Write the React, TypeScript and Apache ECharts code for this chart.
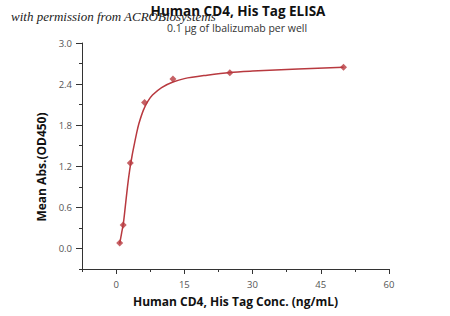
import React, { useEffect, useRef } from "react";
import * as echarts from "echarts";

const pointsX = [0.78125, 1.5625, 3.125, 6.25, 12.5, 25, 50];
const pointsY = [0.078, 0.341, 1.249, 2.133, 2.474, 2.567, 2.646];

const curveX = [0.78, 1.2, 1.6, 2.0, 2.5, 3.0, 3.5, 4.0, 4.5, 5.0, 6.0, 7.0, 8.0, 10, 12.5, 15, 20, 25, 30, 40, 50];
const curveY = [0.07, 0.22, 0.37, 0.6, 0.9, 1.15, 1.35, 1.52, 1.68, 1.82, 2.02, 2.15, 2.24, 2.35, 2.43, 2.48, 2.53, 2.57, 2.59, 2.62, 2.645];

const xMajorTicks = [0, 15, 30, 45, 60];
const yMajorTicks = [0, 0.6, 1.2, 1.8, 2.4, 3.0];

const title = "Human CD4, His Tag ELISA";
const subtitle = "0.1 μg of Ibalizumab per well";
const watermark = "with permission from ACROBiosystems";
const xName = "Human CD4, His Tag Conc. (ng/mL)";
const yName = "Mean Abs.(OD450)";

const RED = "#b8393f";
const AXIS = "#333";
const FONT = "'Open Sans', 'Noto Sans', sans-serif";

const X_MIN = -7.5;
const X_MAX = 60;
const X_MINOR = 7.5;
const Y_MIN = -0.3;
const Y_MAX = 3.0;
const Y_MINOR = 0.3;

const GRID = { left: 82, right: 61, top: 43, bottom: 47 };
const GRID_W = 450 - GRID.left - GRID.right;
const GRID_H = 316 - GRID.top - GRID.bottom;

export default function App() {
  const ref = useRef<HTMLDivElement>(null);
  useEffect(() => {
    if (!ref.current) return;
    const chart = echarts.init(ref.current, undefined, { renderer: "svg" });
    chart.setOption({
      animation: false,
      backgroundColor: "#fff",
      grid: GRID,
      xAxis: [
        {
          type: "value",
          min: X_MIN,
          max: X_MAX,
          interval: X_MINOR,
          position: "bottom",
          name: xName,
          nameLocation: "middle",
          nameGap: 26,
          nameTextStyle: { fontFamily: FONT, fontWeight: "bold", fontSize: 12, color: "#111" },
          axisLine: { show: true, onZero: false, lineStyle: { color: AXIS, width: 1 } },
          axisTick: { show: true, length: 3, lineStyle: { color: AXIS, width: 1 } },
          axisLabel: {
            margin: 10,
            fontFamily: FONT,
            fontSize: 9.5,
            color: "#555",
            formatter: (v: number) => (xMajorTicks.some((t) => Math.abs(t - v) < 1e-6) ? String(v) : ""),
          },
          splitLine: { show: false },
        },
        {
          type: "value",
          min: X_MIN,
          max: X_MAX,
          position: "top",
          offset: -GRID_H,
          axisLine: { show: false, onZero: false },
          axisTick: { show: true, inside: true, length: 5, customValues: xMajorTicks, lineStyle: { color: AXIS, width: 1 } },
          axisLabel: { show: false },
          splitLine: { show: false },
        },
      ],
      yAxis: [
        {
          type: "value",
          min: Y_MIN,
          max: Y_MAX,
          interval: Y_MINOR,
          position: "left",
          axisLine: { show: true, onZero: false, lineStyle: { color: AXIS, width: 1 } },
          axisTick: { show: true, length: 3, lineStyle: { color: AXIS, width: 1 } },
          axisLabel: {
            margin: 10,
            fontFamily: FONT,
            fontSize: 9.5,
            color: "#555",
            formatter: (v: number) => (yMajorTicks.some((t) => Math.abs(t - v) < 1e-6) ? v.toFixed(1) : ""),
          },
          splitLine: { show: false },
        },
        {
          type: "value",
          min: Y_MIN,
          max: Y_MAX,
          position: "right",
          offset: -GRID_W,
          axisLine: { show: false, onZero: false },
          axisTick: { show: true, inside: true, length: 6, customValues: yMajorTicks, lineStyle: { color: AXIS, width: 1 } },
          axisLabel: { show: false },
          splitLine: { show: false },
        },
      ],
      series: [
        {
          type: "line",
          data: curveX.map((x, i) => [x, curveY[i]]),
          smooth: 0.3,
          showSymbol: false,
          symbol: "none",
          lineStyle: { color: RED, width: 1.5 },
          z: 2,
        },
        {
          type: "scatter",
          data: pointsX.map((x, i) => [x, pointsY[i]]),
          symbol: "diamond",
          symbolSize: 7,
          itemStyle: { color: RED },
          z: 3,
        },
      ],
      graphic: [
        {
          type: "text",
          x: 238,
          y: 11,
          style: {
            text: title,
            fontFamily: FONT,
            fontWeight: "bold",
            fontSize: 13.5,
            fill: "#111",
            align: "center",
            verticalAlign: "middle",
          },
        },
        {
          type: "text",
          x: 237,
          y: 28,
          style: {
            text: subtitle,
            fontFamily: FONT,
            fontSize: 10.5,
            fill: "#333",
            align: "center",
            verticalAlign: "middle",
          },
        },
        {
          type: "text",
          x: 11,
          y: 16,
          z: 10,
          style: {
            text: watermark,
            fontFamily: "'Liberation Serif', 'DejaVu Serif', serif",
            fontStyle: "italic",
            fontSize: 13,
            fill: "#222",
            align: "left",
            verticalAlign: "middle",
          },
        },
        {
          type: "text",
          x: 41.5,
          y: 167,
          rotation: Math.PI / 2,
          style: {
            text: yName,
            fontFamily: FONT,
            fontWeight: "bold",
            fontSize: 12,
            fill: "#111",
            align: "center",
            verticalAlign: "middle",
          },
        },
      ],
    });
    return () => chart.dispose();
  }, []);
  return (
    <div
      ref={ref}
      style={{ position: "absolute", left: 0, top: 0, width: 450, height: 316 }}
    />
  );
}
